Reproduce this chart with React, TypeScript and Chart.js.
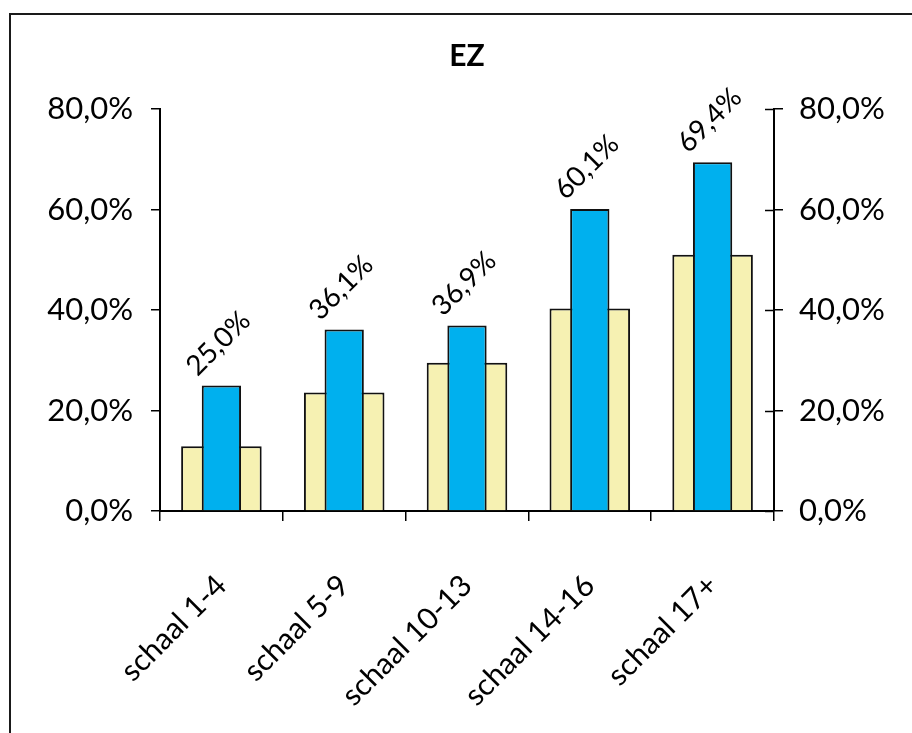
import React, { useEffect, useRef } from "react";
import { Chart, registerables } from "chart.js";

Chart.register(...registerables);

const categories = ["schaal 1-4", "schaal 5-9", "schaal 10-13", "schaal 14-16", "schaal 17+"];
const yellowValues = [12.9, 23.6, 29.5, 40.3, 51.0];
const blueValues = [25.0, 36.1, 36.9, 60.1, 69.4];
const yTicks = [0, 20, 40, 60, 80];
const chartTitle = "EZ";

const FONT = "Lato, 'Open Sans', sans-serif";
const fmt = (v: number) => v.toFixed(1).replace(".", ",") + "%";

const dataLabelPlugin = {
  id: "dataLabels",
  afterDatasetsDraw(chart: any) {
    const ctx = chart.ctx;
    const idx = chart.data.datasets.findIndex((d: any) => d.label === "blue");
    const meta = chart.getDatasetMeta(idx);
    const vals = chart.data.datasets[idx].data as number[];
    ctx.save();
    ctx.fillStyle = "#000";
    ctx.font = `28px ${FONT}`;
    ctx.textAlign = "center";
    ctx.textBaseline = "middle";
    meta.data.forEach((el: any, i: number) => {
      ctx.save();
      ctx.translate(el.x - 3, el.y - 42);
      ctx.rotate(-Math.PI / 4);
      ctx.fillText(fmt(vals[i]), 0, 0);
      ctx.restore();
    });
    ctx.restore();
  },
};

const innerTickPlugin = {
  id: "innerTicks",
  afterDraw(chart: any) {
    const s = chart.scales.y2;
    const ctx = chart.ctx;
    ctx.save();
    ctx.strokeStyle = "#000";
    ctx.lineWidth = 1.5;
    s.ticks.forEach((t: any) => {
      const y = Math.round(s.getPixelForValue(t.value)) + 0.5;
      ctx.beginPath();
      ctx.moveTo(s.left - 9, y);
      ctx.lineTo(s.left, y);
      ctx.stroke();
    });
    ctx.restore();
  },
};

export default function App() {
  const ref = useRef<HTMLCanvasElement>(null);
  useEffect(() => {
    const yScaleCommon = {
      min: 0,
      max: 80,
      afterBuildTicks: (scale: any) => {
        scale.ticks = yTicks.map((v) => ({ value: v }));
      },
      grid: { drawOnChartArea: false, tickLength: 9, color: "#000", lineWidth: 1.5 },
      border: { display: true, color: "#000", width: 2 },
    };
    const chart = new Chart(ref.current!, {
      type: "bar",
      data: {
        labels: categories,
        datasets: [
          {
            label: "blue",
            data: blueValues,
            backgroundColor: "#00B0EE",
            borderColor: "#111",
            borderWidth: 2,
            barPercentage: 0.32,
            categoryPercentage: 1,
            grouped: false,
            order: 0,
            yAxisID: "y",
          } as any,
          {
            label: "yellow",
            data: yellowValues,
            backgroundColor: "#F6F1B2",
            borderColor: "#111",
            borderWidth: 2,
            barPercentage: 0.656,
            categoryPercentage: 1,
            grouped: false,
            order: 1,
            yAxisID: "y",
          } as any,
        ],
      },
      options: {
        animation: false,
        responsive: true,
        maintainAspectRatio: false,
        layout: { padding: 0 },
        plugins: {
          legend: { display: false },
          tooltip: { enabled: false },
          title: {
            display: true,
            text: chartTitle,
            fullSize: false,
            color: "#000",
            font: { family: FONT, size: 30, weight: "bold" },
            padding: { top: 38, bottom: 35 },
          },
        },
        scales: {
          x: {
            offset: true,
            grid: { offset: true, drawOnChartArea: false, tickLength: 10, color: "#000", lineWidth: 1.5 },
            border: { display: true, color: "#000", width: 2 },
            ticks: {
              autoSkip: false,
              minRotation: 45,
              maxRotation: 45,
              padding: 47,
              color: "#000",
              font: { family: FONT, size: 30 },
            },
            afterFit: (s: any) => {
              s.height = 222;
            },
          },
          y: {
            ...yScaleCommon,
            position: "left",
            ticks: {
              color: "#000",
              padding: 18,
              font: { family: FONT, size: 31 },
              callback: (v: any) => fmt(Number(v)),
            },
            afterFit: (s: any) => {
              s.width = 160;
            },
          } as any,
          y2: {
            ...yScaleCommon,
            position: "right",
            ticks: {
              color: "#000",
              padding: 16,
              font: { family: FONT, size: 31 },
              callback: (v: any) => fmt(Number(v)),
            },
            afterFit: (s: any) => {
              s.width = 138;
            },
          } as any,
        },
      },
      plugins: [dataLabelPlugin, innerTickPlugin],
    });
    return () => chart.destroy();
  }, []);

  return (
    <div style={{ position: "fixed", left: 0, top: 0, width: 912, height: 733, overflow: "hidden", background: "#fff" }}>
      <div
        style={{
          position: "absolute",
          left: 9,
          top: 13,
          width: 2000,
          height: 2000,
          border: "2px solid #1a1a1a",
          boxSizing: "border-box",
        }}
      />
      <div style={{ position: "absolute", left: 0, top: 0, width: 912, height: 733 }}>
        <canvas ref={ref} />
      </div>
    </div>
  );
}
